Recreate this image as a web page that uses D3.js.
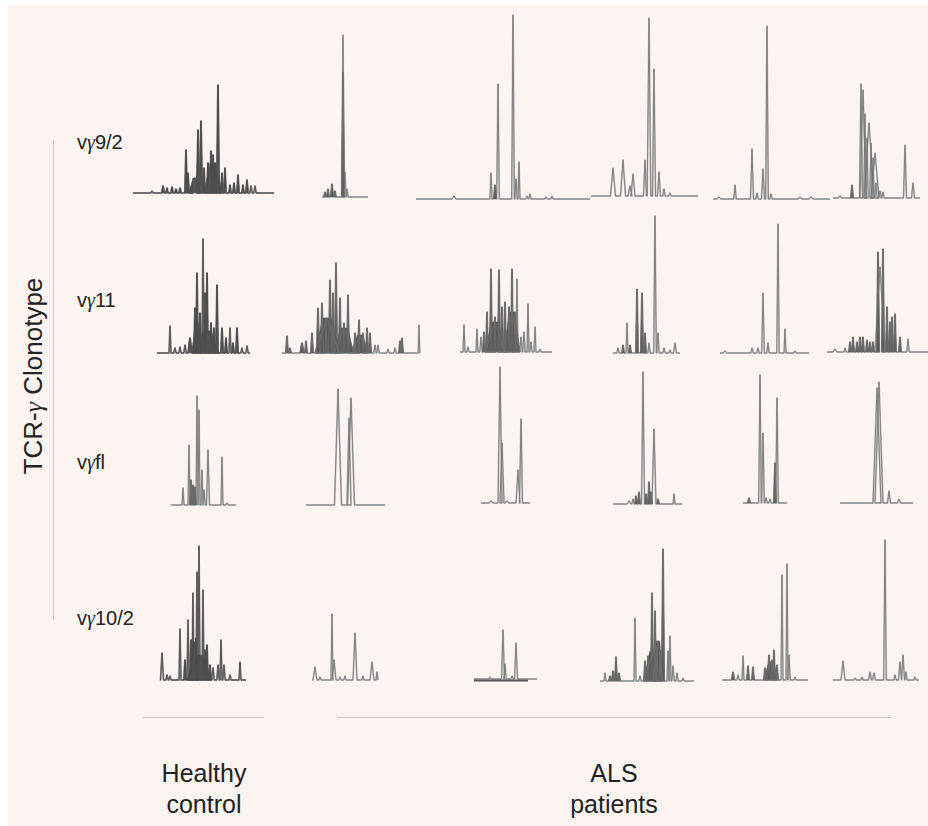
<!DOCTYPE html>
<html>
<head>
<meta charset="utf-8">
<script src="https://cdn.jsdelivr.net/npm/d3@7"></script>
<style>
  body { margin: 0; background: #fff; }
  svg { display: block; }
  text { font-family: "Liberation Sans", Arial, sans-serif; fill: #222; }
  .greek { font-family: "Liberation Serif", serif; font-style: italic; }
</style>
</head>
<body>
<svg id="svg" width="928" height="826"></svg>
<script>
// labels
const rowLabels = ["vγ9/2", "vγ11", "vγfl", "vγ10/2"];
const groupLabels = [["Healthy", "control"], ["ALS", "patients"]];
const axisLabel = "TCR-γ Clonotype";

// peaks per panel: [position, height, half width, filled]
// columns: healthy control, ALS patient 1..5
const vg92 = [
  [[19,2],[30,7,1.5,1],[34,5,1,1],[39,6,1,1],[43,4,1,1],[47,5,1,1],[53,43,1,1],[55,20,1,1],
   [59,8,1,1],[62,15,6,1],[65,63,1.3,1],[68,72,1.3,1],[71,25,1,1],[75,30,1,1],[78,42,1,1],
   [80,30,9,1],[80,38,1,1],[82,30,1,1],[85,108,1.3,1],[89,20,1,1],[92,25,1,1],[97,8,1,1],
   [101,10,1,1],[105,18,1,1],[110,8,1,1],[114,13,1,1],[118,7],[122,7]],
  [[3,5,1,1],[6,8,1,1],[10,13,1.5,1],[13,6,1,1],[21,125,1.5,1],[21,162,1.2],[23,25],[25,8]],
  [[38,3,2],[75,26,1],[79,14,1.5,1],[82,115,1.3],[97,184,1.3],[100,20],[103,37,1],
   [111,3],[114,5],[130,2],[136,3]],
  [[22,28,2.5],[32,36,2.5],[39,10,2],[42,22,2],[54,36,1.5],[58,178,1.8],[63,127,1.5],
   [68,24,1.5],[73,7],[79,3]],
  [[6,2,2],[22,14,1.2],[39,50,1.5],[44,6],[50,30,1.5],[54,173,1.3],[58,5],[87,2,2],[98,2,2]],
  [[7,2,2],[19,13,1,1],[28,114,1.5],[30,108,3],[32,84],[34,60],[36,75,5],[38,55],[40,40],
   [42,45,4],[43,15],[47,7],[50,6],[72,53,1.5],[80,15,1.5]]
];

const vg11 = [
  [[13,27,1],[18,5],[23,6],[28,8],[33,15,2,1],[38,45,1,1],[40,80,1,1],[40,30,5,1],[43,40,1,1],
   [46,114,1],[48,60,1,1],[50,22,12,1],[50,80,1,1],[54,30,1,1],[57,25,1,1],[60,68,1,1],
   [65,25,1,1],[69,15,1,1],[73,25,1],[76,10,1,1],[80,25,1,1],[85,5],[90,7]],
  [[5,17,1,1],[8,5,1,1],[20,10,2,1],[24,12,1,1],[30,20,1,1],[36,45,1.5,1],[40,50,1.5,1],
   [44,35,1,1],[45,35,12,1],[48,73,1.5,1],[51,60,1,1],[54,90,1.2,1],[58,55,1.2,1],[62,30,1,1],
   [62,25,10,1],[66,58,1,1],[73,20,1,1],[77,33,1,1],[78,18,8,1],[81,20,1,1],[85,25,1,1],
   [88,20,1,1],[93,8],[96,8],[106,4],[113,5],[118,12,1,1],[120,15,1,1],[137,28,0.8]],
  [[4,27,1],[8,5],[17,23,1],[21,15],[24,20,1,1],[27,40,1,1],[31,83,1,1],[35,35,1,1],
   [35,30,10,1],[39,82,1,1],[42,45,1,1],[45,50,1,1],[49,45,1,1],[52,40,8,1],[52,83,1,1],
   [55,40,1,1],[57,73,1],[61,15],[64,20],[68,48,1],[71,10],[75,25,1],[80,3]],
  [[5,5],[10,8,1,1],[14,30,1],[17,8,1,1],[24,64,1,1],[29,60,1.2,1],[32,20,1,1],[36,10],
   [42,137,1.3],[45,20],[51,5],[57,3],[62,10,1.5]],
  [[5,2,2],[32,5],[38,5],[43,60,1.3],[48,10],[58,129,1.2],[65,24,1],[75,2]],
  [[8,3,2],[18,4],[23,10,1,1],[26,15,1,1],[30,10,1,1],[33,15,1,1],[36,15,1,1],[40,12,1,1],
   [43,10,1,1],[46,10,1,1],[51,100,1.5,1],[53,85,5],[56,103,1.2,1],[60,45,1,1],[63,30,1,1],
   [65,35,1,1],[68,38,1,1],[73,15,1,1],[81,13]]
];

const vgfl = [
  [[12,17,1],[18,60,1],[20,25,1,1],[22,20,1,1],[24,18,1,1],[26,109,1],[28,95,1],[31,35,1],
   [33,15],[37,55,1.5],[51,48,1],[56,2]],
  [[32,116,3.5],[43,87,2],[45,107,3.5]],
  [[10,2,2],[19,136,2],[21,60,2],[26,2,2],[37,33,2],[40,84,1.5]],
  [[16,3,2],[20,5],[23,8,1,1],[26,12,1,1],[30,132,1.5],[33,10,1,1],[36,22,1,1],[38,12,1,1],
   [41,75,2],[45,5,1,1],[61,10,1]],
  [[6,5,1,1],[17,128,1.3],[20,70,1.3],[23,5],[27,4],[32,40,1.2,1],[34,105,1.3]],
  [[37,115,4],[39,121,4],[49,12,1.5],[59,4,1.5]]
];

const vg102 = [
  [[1,27,1.5],[6,5],[9,4],[19,51,1],[24,20,1,1],[27,60,1],[30,40,1,1],[32,87,1],[33,38,5,1],
   [35,42,1,1],[36,108,1],[38,25,12,1],[38,134,1],[42,90,1],[44,30,1,1],[46,35,1,1],
   [49,15,1,1],[52,12],[57,15],[60,40,1],[63,15],[69,5],[79,18,1]],
  [[3,13,2],[8,3],[20,66,1],[22,20,2],[28,3],[33,4],[43,47,2],[51,4],[60,18,2],[65,8,1]],
  [[16,2],[29,49,1.5],[31,15],[38,3],[42,36,1.5]],
  [[5,8,1],[10,5,1,1],[13,10,1,1],[16,24,1,1],[19,8,1,1],[35,63,1],[40,5],[45,20,1,1],
   [48,25,1,1],[52,88,1,1],[53,30,9,1],[55,70,1,1],[57,35,1,1],[58,40,5,1],[60,30,1,1],
   [63,132,1.3,1],[68,30,1],[70,45,1],[73,15],[77,8],[83,3]],
  [[11,8,1.5,1],[16,5],[21,24,1],[26,14,1,1],[31,13,1,1],[43,12,1,1],[47,25,1.5,1],
   [49,18,7,1],[50,20,1,1],[52,30,1,1],[55,15,1,1],[60,105,1],[65,116,1],[67,25],[73,3]],
  [[10,19,2],[22,2],[29,3],[37,8,1.5],[41,7,1.5],[52,140,1.3],[62,5],[67,18,1.5],
   [70,25,1.5],[73,8],[82,3]]
];

const rows = [vg92, vg11, vgfl, vg102];

// layout: panel boxes [x0, x1, baseline y] per row and column
const panelBoxes = [
  [[133,274,193],[322,368,197],[416,590,199],[591,698,196],[713,830,199],[833,920,198]],
  [[157,250,353],[282,420,353],[460,552,352],[613,680,353],[720,809,353],[827,928,352]],
  [[171,236,505],[306,385,505],[481,530,503],[613,682,504],[743,787,503],[840,913,503]],
  [[161,246,680],[312,378,680],[474,537,679],[600,694,681],[722,808,680],[833,919,680]]
];
const rowLabelY = [149, 307, 469, 625];

const svg = d3.select("#svg");
svg.append("rect").attr("x", 8).attr("y", 5).attr("width", 920).attr("height", 821)
  .attr("fill", "#fcf4f1");

// writes a label, setting the gamma in its own tspan
function greekText(sel, str) {
  str.split(/(γ)/).filter(s => s).forEach(part => {
    sel.append("tspan").attr("class", part === "γ" ? "greek" : null).text(part);
  });
}

// left bracket + rotated label
svg.append("line").attr("x1", 53.5).attr("x2", 53.5).attr("y1", 140).attr("y2", 620)
  .attr("stroke", "#cfcfcf").attr("stroke-width", 1);
greekText(svg.append("text").attr("transform", "translate(42,376) rotate(-90)")
  .attr("text-anchor", "middle").style("font-size", "26px"), axisLabel);

rowLabels.forEach((lab, i) => {
  greekText(svg.append("text").attr("x", 77).attr("y", rowLabelY[i])
    .style("font-size", "20px"), lab);
});

const line = d3.line();
const area = d3.area();

rows.forEach((row, r) => {
  row.forEach((peaks, c) => {
    const [x0, x1, base] = panelBoxes[r][c];
    const x = d3.scaleLinear().domain([0, x1 - x0]).range([x0, x1]);
    const y = d3.scaleLinear().domain([0, 200]).range([base, base - 200]);
    const g = svg.append("g");
    const dark = c === 0 && r !== 2;

    const sorted = peaks.slice().sort((a, b) => a[0] - b[0]);
    const pts = [[x(0), y(0)]];
    sorted.forEach(p => {
      const w = p[2] || 1.2;
      pts.push([x(p[0] - w), y(0)], [x(p[0]), y(p[1])], [x(p[0] + w), y(0)]);
    });
    pts.push([x(x1 - x0), y(0)]);

    // light halo of the trace
    g.append("path").attr("d", line(pts)).attr("fill", "none")
      .attr("stroke", dark ? "#8a8a8a" : "#c2c2c2").attr("stroke-width", 1.8)
      .attr("stroke-linejoin", "round");

    // filled parts (trapezoids so neighbours merge into a mass)
    area.x(d => x(d[0])).y0(y(0)).y1(d => y(d[1]));
    peaks.filter(p => p[3]).forEach(p => {
      const w = Math.max(p[2] || 1.2, 1.5);
      g.append("path")
        .datum([[p[0] - w, 0], [p[0] - w * 0.35, p[1]], [p[0] + w * 0.35, p[1]], [p[0] + w, 0]])
        .attr("d", area)
        .attr("fill", "#575757").attr("stroke", "#575757").attr("stroke-width", 0.5);
    });

    // darker core line
    g.append("path").attr("d", line(pts)).attr("fill", "none")
      .attr("stroke", dark ? "#4a4a4a" : "#707070").attr("stroke-width", 0.8)
      .attr("stroke-linejoin", "round");

    if (r === 3 && c === 2) {
      g.append("line").attr("x1", x(0)).attr("x2", x(54)).attr("y1", y(0) + 1.5).attr("y2", y(0) + 1.5)
        .attr("stroke", "#555").attr("stroke-width", 2);
    }
  });
});

// group brackets and labels
const groupLines = [[143, 264], [337, 891]];
const groupCenters = [204, 614];
groupLines.forEach((gl, i) => {
  svg.append("line").attr("x1", gl[0]).attr("x2", gl[1]).attr("y1", 717.5).attr("y2", 717.5)
    .attr("stroke", "#c8c8c8").attr("stroke-width", 1);
  groupLabels[i].forEach((t, j) => {
    svg.append("text").attr("x", groupCenters[i]).attr("y", 782 + j * 31)
      .attr("text-anchor", "middle").style("font-size", "25px").text(t);
  });
});
</script>
</body>
</html>
